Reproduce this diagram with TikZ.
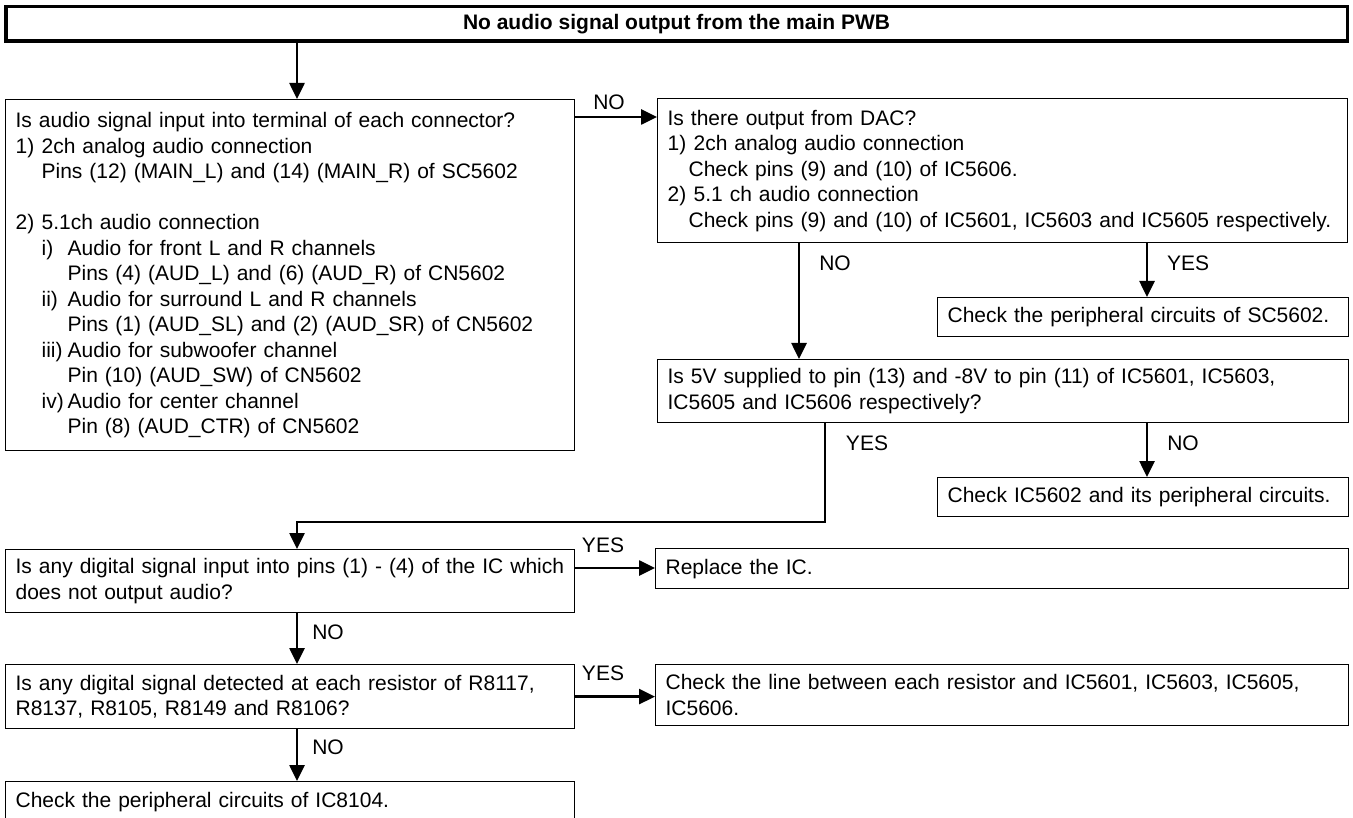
\documentclass[tikz,border=0pt]{standalone}
\usepackage{fontspec}
\setmainfont{Liberation Sans}
\usetikzlibrary{arrows.meta}
\newcommand\fsz{\fontsize{21pt}{25.5pt}\selectfont\hyphenpenalty=10000 }
\newcommand\lab[1]{\makebox[26pt][l]{#1}}
\begin{document}
\begin{tikzpicture}[x=1pt,y=-1pt,
  box/.style={draw=black, line width=1.2pt, anchor=north west, align=left,
    inner xsep=10pt, inner ysep=0pt, font=\fsz},
  titlebox/.style={draw=black, line width=3.5pt, inner sep=0pt, font=\fsz\bfseries},
  arr/.style={line width=2.6pt, -{Triangle[length=16pt,width=15pt]}},
  lbl/.style={font=\fsz, inner sep=0pt}]
\useasboundingbox (0,0) rectangle (1353,818);

% helper coordinates
\coordinate (cx) at (297,0);
\coordinate (cno) at (799,0);
\coordinate (cyes) at (1147,0);
\coordinate (cy2) at (825,0);
\coordinate (cbend) at (0,522);
\coordinate (yno) at (0,117);
\coordinate (yrep) at (0,568);

\node[titlebox, minimum width=1341.5pt, minimum height=34.5pt] (top) at (676.5,24)
  {No audio signal output from the main PWB};

\node[box, text width=549pt, minimum height=351pt] (q1) at (5,99) {%
Is audio signal input into terminal of each connector?\\
\lab{1)}2ch analog audio connection\\
\hspace*{26pt}Pins (12) (MAIN\_L) and (14) (MAIN\_R) of SC5602\\
\mbox{}\\
\lab{2)}5.1ch audio connection\\
\hspace*{26pt}\lab{i)}Audio for front L and R channels\\
\hspace*{52pt}Pins (4) (AUD\_L) and (6) (AUD\_R) of CN5602\\
\hspace*{26pt}\lab{ii)}Audio for surround L and R channels\\
\hspace*{52pt}Pins (1) (AUD\_SL) and (2) (AUD\_SR) of CN5602\\
\hspace*{26pt}\lab{iii)}Audio for subwoofer channel\\
\hspace*{52pt}Pin (10) (AUD\_SW) of CN5602\\
\hspace*{26pt}\lab{iv)}Audio for center channel\\
\hspace*{52pt}Pin (8) (AUD\_CTR) of CN5602};

\node[box, text width=670pt, minimum height=144pt] (dac) at (657,98) {%
Is there output from DAC?\\
\lab{1)}2ch analog audio connection\\
\hspace*{21pt}Check pins (9) and (10) of IC5606.\\
\lab{2)}5.1 ch audio connection\\
\hspace*{21pt}Check pins (9) and (10) of IC5601, IC5603 and IC5605 respectively.};

\node[box, text width=391pt, minimum height=39pt] (sc) at (937,297)
  {Check the peripheral circuits of SC5602.};

\node[box, text width=671pt, minimum height=63pt] (v5) at (657,359) {%
Is 5V supplied to pin (13) and -8V to pin (11) of IC5601, IC5603,\\
IC5605 and IC5606 respectively?};

\node[box, text width=391pt, minimum height=39pt] (ic) at (937,477)
  {Check IC5602 and its peripheral circuits.};

\node[box, text width=549pt, minimum height=63pt] (dig) at (5,549) {%
Is any digital signal input into pins (1) - (4) of the IC which\\
does not output audio?};

\node[box, text width=673pt, minimum height=40pt] (rep) at (655,548)
  {Replace the IC.};

\node[box, text width=549pt, minimum height=64pt] (res) at (5,664) {%
Is any digital signal detected at each resistor of R8117,\\
R8137, R8105, R8149 and R8106?};

\node[box, text width=673pt, minimum height=61pt] (line) at (655,664) {%
Check the line between each resistor and IC5601, IC5603, IC5605,\\
IC5606.};

\node[box, text width=549pt, minimum height=41pt] (fin) at (5,781)
  {Check the peripheral circuits of IC8104.};

% connectors
\draw[arr] (cx |- top.south) -- (cx |- q1.north);
\draw[arr] (q1.east |- yno) -- (dac.west |- yno);
\draw[arr] (cno |- dac.south) -- (cno |- v5.north);
\draw[arr] (cyes |- dac.south) -- (cyes |- sc.north);
\draw[arr] (cyes |- v5.south) -- (cyes |- ic.north);
\draw[arr] (cy2 |- v5.south) -- (cy2 |- cbend) -- (cx |- cbend) -- (cx |- dig.north);
\draw[arr] (dig.east |- yrep) -- (rep.west |- yrep);
\draw[arr] (cx |- dig.south) -- (cx |- res.north);
\draw[arr] (res.east) -- (res.east -| line.west);
\draw[arr] (cx |- res.south) -- (cx |- fin.north);

% labels
\node[lbl] (l1) at (609,102) {NO};
\node[lbl] (l2) at (835,263) {NO};
\node[lbl] (l3) at (1188,263) {YES};
\node[lbl] (l4) at (867,443) {YES};
\node[lbl] (l5) at (1183,443) {NO};
\node[lbl] (l6) at (603,545) {YES};
\node[lbl] (l7) at (328,632) {NO};
\node[lbl] (l8) at (603,673) {YES};
\node[lbl] (l9) at (328,747) {NO};
\end{tikzpicture}
\end{document}
